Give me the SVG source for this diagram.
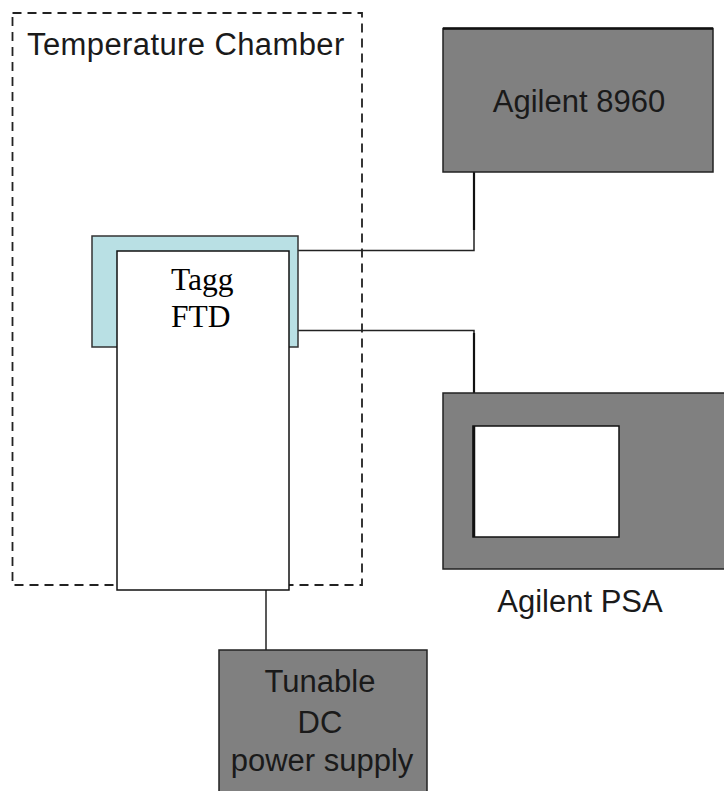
<svg xmlns="http://www.w3.org/2000/svg" width="724" height="791" viewBox="0 0 724 791">
<style>
.sans{font-family:"Liberation Sans",Arial,sans-serif;font-size:31px;fill:#1a1a1a}
.serif{font-family:"Liberation Serif","Times New Roman",serif;font-size:31.5px;fill:#000}
.box{fill:#808080;stroke:#222;stroke-width:1.5}
.wire{fill:none;stroke:#222;stroke-width:1.5}
</style>
<rect width="724" height="791" fill="#fff"/>
<g id="chamber">
<rect x="12.5" y="13" width="349.5" height="572" fill="none" stroke="#222" stroke-width="1.8" stroke-dasharray="9,6"/>
<text class="sans" x="27" y="55" letter-spacing="0.4">Temperature Chamber</text>
</g>
<g id="connectors">
<polyline class="wire" points="298,250.5 474,250.5 474,172"/>
<polyline class="wire" points="298,330.5 474,330.5 474,393"/>
<line class="wire" x1="266" y1="590" x2="266" y2="650"/>
<line x1="474" y1="172" x2="474" y2="230" stroke="#111" stroke-width="2.2"/>
<line x1="474" y1="333" x2="474" y2="393" stroke="#111" stroke-width="2.2"/>
</g>
<g id="tagg-ftd">
<rect x="92" y="236" width="206" height="111" fill="#b9e0e4" stroke="#333" stroke-width="1.5"/>
<rect x="117" y="251" width="172" height="339" fill="#fff" stroke="#111" stroke-width="1.5"/>
<text class="serif" x="171" y="290">Tagg</text>
<text class="serif" x="171" y="327">FTD</text>
</g>
<g id="agilent-8960">
<rect class="box" x="443" y="28.5" width="270" height="143.5"/>
<line x1="443" y1="28.5" x2="713" y2="28.5" stroke="#111" stroke-width="2.5"/>
<text class="sans" x="579" y="112" text-anchor="middle">Agilent 8960</text>
</g>
<g id="agilent-psa">
<rect class="box" x="443" y="393" width="290" height="176"/>
<rect x="473" y="426" width="146" height="111" fill="#fff" stroke="#111" stroke-width="1.5"/>
<line x1="474" y1="426" x2="474" y2="537" stroke="#111" stroke-width="2.5"/>
<text class="sans" x="580" y="612" text-anchor="middle">Agilent PSA</text>
</g>
<g id="power-supply">
<rect class="box" x="219" y="650" width="208" height="160"/>
<text class="sans" x="320" y="692" text-anchor="middle">Tunable</text>
<text class="sans" x="320" y="733" text-anchor="middle">DC</text>
<text class="sans" x="322" y="771" text-anchor="middle">power supply</text>
</g>
</svg>
